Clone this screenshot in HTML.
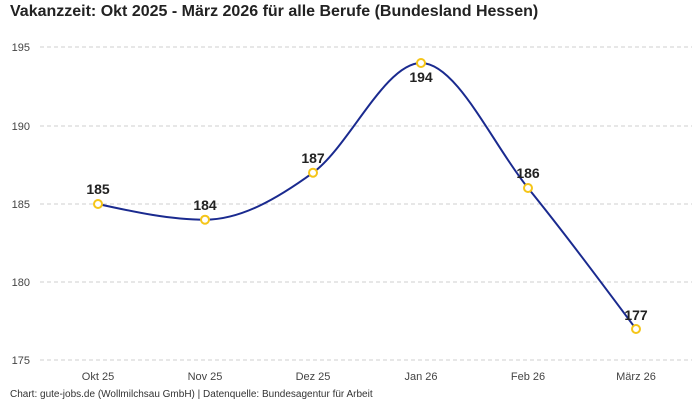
<!DOCTYPE html>
<html><head><meta charset="utf-8"><style>
html,body{margin:0;padding:0;background:#fff;}
body{width:700px;height:400px;overflow:hidden;font-family:"Liberation Sans",sans-serif;}
</style></head><body>
<svg width="700" height="400" xmlns="http://www.w3.org/2000/svg" font-family="Liberation Sans, sans-serif">
<text x="10" y="16" font-size="16" font-weight="bold" fill="#222">Vakanzzeit: Okt 2025 - März 2026 für alle Berufe (Bundesland Hessen)</text>
<g stroke="#cfcfcf" stroke-dasharray="4,3" stroke-width="1">
<line x1="40" x2="692" y1="47" y2="47"/>
<line x1="40" x2="692" y1="126" y2="126"/>
<line x1="40" x2="692" y1="204" y2="204"/>
<line x1="40" x2="692" y1="282" y2="282"/>
<line x1="40" x2="692" y1="360" y2="360"/>
</g>
<g font-size="11" fill="#444" text-anchor="end">
<text x="30" y="51">195</text><text x="30" y="130">190</text><text x="30" y="208">185</text><text x="30" y="286">180</text><text x="30" y="364">175</text>
</g>
<g font-size="11" fill="#444" text-anchor="middle">
<text x="98" y="380">Okt 25</text><text x="205" y="380">Nov 25</text><text x="313" y="380">Dez 25</text><text x="421" y="380">Jan 26</text><text x="528" y="380">Feb 26</text><text x="636" y="380">März 26</text>
</g>
<path d="M98,204 C133.7,211.8 169.3,219.7 205,219.7 C241,219.7 277,198.8 313,172.7 C349,146.6 385,63 421,63 C456.7,63 492.3,143.8 528,188 C564,232.5 600,280.8 636,329" fill="none" stroke="#1a2a8f" stroke-width="2"/>
<g fill="#fff" stroke="#f5c518" stroke-width="2">
<circle cx="98" cy="204" r="4"/><circle cx="205" cy="219.7" r="4"/><circle cx="313" cy="172.7" r="4"/><circle cx="421" cy="63" r="4"/><circle cx="528" cy="188" r="4"/><circle cx="636" cy="329" r="4"/>
</g>
<g font-size="14" font-weight="bold" fill="#222" text-anchor="middle">
<text x="98" y="194">185</text><text x="205" y="210">184</text><text x="313" y="163">187</text><text x="421" y="82">194</text><text x="528" y="178">186</text><text x="636" y="320">177</text>
</g>
<text x="10" y="397" font-size="10" fill="#333">Chart: gute-jobs.de (Wollmilchsau GmbH) | Datenquelle: Bundesagentur für Arbeit</text>
</svg>
</body></html>
